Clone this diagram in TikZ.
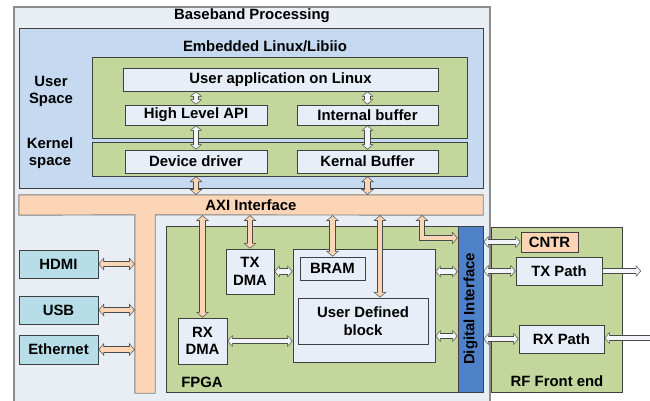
\documentclass[tikz,border=0pt]{standalone}
\usepackage{fontspec}
\setmainfont{Liberation Sans}
\usetikzlibrary{arrows.meta,calc}
\definecolor{bgc}{HTML}{E9EDF4}
\definecolor{bgedge}{HTML}{8C8C8C}
\definecolor{edgec}{HTML}{404040}
\definecolor{aredge}{HTML}{4A4A4A}
\definecolor{linc}{HTML}{C5D9F1}
\definecolor{grc}{HTML}{C3D69B}
\definecolor{wc}{HTML}{E8EEF8}
\definecolor{warc}{HTML}{F2F5FA}
\definecolor{orc}{HTML}{FBD5B5}
\definecolor{orEdge}{HTML}{7F7F7F}
\definecolor{cyc}{HTML}{B7DEE8}
\definecolor{dic}{HTML}{4F81C9}
\tikzset{
  tipO/.tip={Triangle[length=5.6pt,width=12.4pt]},
  tipI/.tip={Triangle[length=4.0pt,width=9.2pt]},
  wtipO/.tip={Triangle[length=5.2pt,width=11.6pt]},
  wtipI/.tip={Triangle[length=3.7pt,width=8.5pt]},
  sz/.style 2 args={minimum width=#1pt, minimum height=#2pt},
  boxbase/.style={draw=edgec, line width=0.8pt, inner sep=0pt},
  wbox/.style={boxbase, fill=wc},
  gbox/.style={boxbase, fill=grc},
  obox/.style={boxbase, fill=orc},
  cbox/.style={boxbase, fill=cyc},
  dibox/.style={boxbase, fill=dic},
  lbox/.style={boxbase, fill=linc},
  outerbox/.style={draw=bgedge, line width=1.6pt, fill=bgc, inner sep=0pt},
  oarrow/.style={draw=orc, line width=4.8pt, line join=miter, arrows={tipI-tipI},
    shorten >=0.9pt, shorten <=0.9pt,
    preaction={draw=aredge, line width=6.6pt, line join=miter, arrows={tipO-tipO}, shorten >=0pt, shorten <=0pt}},
  warrow/.style={draw=warc, line width=4.4pt, line join=miter, arrows={wtipI-wtipI},
    shorten >=0.9pt, shorten <=0.9pt,
    preaction={draw=aredge, line width=6.2pt, line join=miter, arrows={wtipO-wtipO}, shorten >=0pt, shorten <=0pt}},
  warrowS/.style={draw=warc, line width=4.4pt, line join=miter, arrows={-wtipI},
    shorten >=0.9pt, shorten <=0.9pt,
    preaction={draw=aredge, line width=6.2pt, line join=miter, arrows={-wtipO}, shorten >=0pt, shorten <=0pt}},
}
\begin{document}
\begin{tikzpicture}[x=1pt,y=-1pt, font=\fontsize{14.9}{17.5}\selectfont\bfseries]
\useasboundingbox[fill=white] (0,0) rectangle (650,401);
% outer baseband box
\node[outerbox, sz={476}{402}, anchor=north west] (bb) at (13,6) {};
\node (bbt) at (252,16) {Baseband Processing};
% embedded linux
\node[lbox, sz={464}{160}] (lin) at (251,108) {};
\node (lint) at (265,46) {Embedded Linux/Libiio};
\node[gbox, sz={375}{81}] (ug) at (279.5,97.5) {};
\node[gbox, sz={375}{34}] (kg) at (279.5,159) {};
\node[align=center] (usl) at (51,91.5) {User\\Space};
\node[align=center] (ksl) at (50,153) {Kernel\\space};
\node[wbox, sz={315}{23}] (app) at (280.5,79.5) {User application on Linux};
\node[wbox, sz={142}{20}] (api) at (196,115) {High Level API};
\node[wbox, sz={141}{20}] (ibuf) at (367.5,115) {Internal buffer};
\node[wbox, sz={142}{23}] (drv) at (196,161.5) {Device driver};
\node[wbox, sz={141}{23}] (kbuf) at (367.5,161.5) {Kernal Buffer};
% AXI T-shape
\node[fill=orc, inner sep=0pt, sz={464}{20}] (axi) at (251,205) {AXI Interface};
\node[fill=orc, inner sep=0pt, sz={20}{178}] (stem) at (145,304) {};
\draw[draw=orEdge, line width=0.9pt] (axi.north west) -- (axi.north east) -- (axi.south east)
  -- (stem.north east) -- (stem.south east) -- (stem.south west) -- (stem.north west)
  -- (axi.south west) -- cycle;
% peripherals
\node[cbox, sz={79}{28}] (hdmi) at (58.5,264) {HDMI};
\node[cbox, sz={79}{28}] (usb) at (58.5,310) {USB};
\node[cbox, sz={79}{29}] (eth) at (58.5,349.5) {Ethernet};
% FPGA
\node[gbox, sz={292}{166}] (fpga) at (312,309) {};
\node (fpgat) at (202,382) {FPGA};
\node[wbox, sz={142}{113}] (udr) at (364,305.5) {};
\node[wbox, sz={65}{23}] (bram) at (332.5,268.5) {BRAM};
\node[wbox, sz={130}{46}, align=center] (udb) at (363,321) {User Defined\\block};
\node[wbox, sz={48}{45}, align=center] (txdma) at (250,271.5) {TX\\DMA};
\node[wbox, sz={49}{46}, align=center] (rxdma) at (202.5,341) {RX\\DMA};
\node[dibox, sz={25}{166}] (di) at (470.5,309) {\rotatebox{90}{Digital Interface}};
% RF front end
\node[gbox, sz={131}{165}] (rf) at (556.5,309.5) {};
\node (rft) at (557,381) {RF Front end};
\node[obox, sz={57}{20}] (cntr) at (549.5,242) {CNTR};
\node[wbox, sz={86}{28}] (txp) at (559,271) {TX Path};
\node[wbox, sz={85}{28}] (rxp) at (561.5,339) {RX Path};
% arrows in linux
\draw[warrow] (app.south -| api) -- (api.north);
\draw[warrow] (app.south -| ibuf) -- (ibuf.north);
\draw[warrow] (api.south) -- (drv.north);
\draw[warrow] (ibuf.south) -- (kbuf.north);
\draw[oarrow] (kg.south -| drv) -- (axi.north -| drv);
\draw[oarrow] (kg.south -| kbuf) -- (axi.north -| kbuf);
% peripherals to AXI stem
\draw[oarrow] (hdmi.east) -- (hdmi.east -| stem.west);
\draw[oarrow] (usb.east) -- (usb.east -| stem.west);
\draw[oarrow] (eth.east) -- (eth.east -| stem.west);
% AXI to FPGA blocks
\draw[oarrow] (axi.south -| rxdma) -- (rxdma.north);
\draw[oarrow] (axi.south -| txdma) -- (txdma.north);
\draw[oarrow] (axi.south -| bram) -- (bram.north);
\coordinate (udbtop) at ([xshift=17pt]udb.north);
\draw[oarrow] (axi.south -| udbtop) -- (udbtop);
\coordinate (bend) at (422,238);
\draw[oarrow] (axi.south -| bend) -- (bend) -- (bend -| di.west);
% inside FPGA
\draw[warrow] (txdma.east) -- (txdma.east -| udr.west);
\draw[warrow] (rxdma.east) -- (rxdma.east -| udr.west);
\draw[warrow] (udr.east |- txdma) -- (di.west |- txdma);
\coordinate (ud2) at ([yshift=-30.5pt]udr.east);
\draw[warrow] (ud2) -- (ud2 -| di.west);
% digital interface to RF
\draw[warrow] (di.east |- cntr) -- (cntr.west);
\draw[warrow] (di.east |- txp) -- (txp.west);
\draw[warrow] (di.east |- rxp) -- (rxp.west);
\coordinate (txout) at (641,271);
\draw[warrowS] (txp.east) -- (txout);
\coordinate (rxin) at (652,338);
\draw[warrowS] (rxin) -- (rxp.east |- rxin);
\end{tikzpicture}
\end{document}
